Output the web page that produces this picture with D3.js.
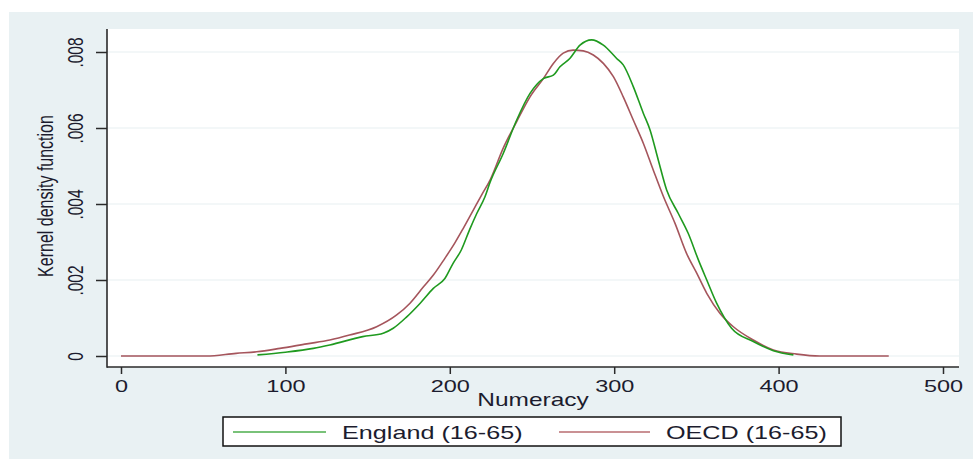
<!DOCTYPE html>
<html>
<head>
<meta charset="utf-8">
<script src="https://cdn.jsdelivr.net/npm/d3@7"></script>
<style>
  html, body { margin: 0; padding: 0; background: #ffffff; }
  svg { display: block; }
  text { font-family: "Liberation Sans", Arial, sans-serif; fill: #1c1c2e; }
</style>
</head>
<body>
<svg id="chart" width="973" height="459"></svg>
<script>
// ---- data ----
const englandX = [83, 100, 117, 127, 147, 159.5, 165.6, 173.8, 182, 190, 197, 202, 207, 212, 216.4, 221.4, 224.5, 232.5, 240.7, 248.8, 256.9, 263, 267, 273, 279.2, 286.3, 293.4, 301.5, 305.5, 311.6, 317.7, 321.8, 326.8, 331.9, 339, 345, 351.2, 356.3, 362.3, 371.4, 384.6, 396.8, 409];
const englandY = [0.00003, 0.0001, 0.0002, 0.00029, 0.00051, 0.0006, 0.00073, 0.00103, 0.00139, 0.00178, 0.00204, 0.00244, 0.00279, 0.00332, 0.00375, 0.00419, 0.00457, 0.00533, 0.00621, 0.00691, 0.0073, 0.00739, 0.00761, 0.00783, 0.00818, 0.00832, 0.00818, 0.00783, 0.00766, 0.00709, 0.00639, 0.00595, 0.00516, 0.00437, 0.00375, 0.00323, 0.00253, 0.002, 0.00139, 0.00073, 0.00038, 0.00014, 0.00003];
const oecdX = [0, 52, 70, 82.5, 96.7, 113, 127, 139, 155.5, 167.7, 175.8, 184, 190, 197, 203, 208.2, 214.3, 219.4, 224.5, 232.5, 240.7, 248.8, 256.9, 263, 269, 275, 281.2, 287.3, 293.4, 299.5, 305.5, 311.6, 317.7, 323.8, 330, 337, 344, 350.2, 356.3, 364.4, 372.5, 384.6, 396.8, 411, 425, 467];
const oecdY = [0, 0, 0.00007, 0.00011, 0.0002, 0.00032, 0.00042, 0.00055, 0.00077, 0.00108, 0.00139, 0.00182, 0.00213, 0.00257, 0.00297, 0.00336, 0.00384, 0.00424, 0.00463, 0.00547, 0.00617, 0.00682, 0.0073, 0.0077, 0.00797, 0.00805, 0.00803, 0.00792, 0.0077, 0.00735, 0.00682, 0.00621, 0.0056, 0.00489, 0.00419, 0.00349, 0.0027, 0.00218, 0.00165, 0.00112, 0.00077, 0.00042, 0.00016, 0.00005, 0, 0];
const xTicks = [0, 100, 200, 300, 400, 500];
const yTicks = [0, 0.002, 0.004, 0.006, 0.008];
const seriesNames = ["England (16-65)", "OECD (16-65)"];
const xTitle = "Numeracy";
const yTitle = "Kernel density function";

// ---- build ----
const svg = d3.select("#chart");
const W = 973, H = 459;
const frame = { left: 107, right: 959, top: 29, bottom: 367 };
const colors = ["#1f9a1f", "#a5555c"];
const legendColors = ["#4cae4c", "#b86c70"];
const bg = "#e9f1f3";
const SX = 1.4; // horizontal stretch of the original rendering

const x = d3.scaleLinear().domain([0, 500]).range([121, 943]);
const y = d3.scaleLinear().domain([0, 0.008]).range([356, 52]);

// outer background
svg.append("rect").attr("x", 9).attr("y", 12).attr("width", W - 9).attr("height", H - 12).attr("fill", bg);
// plot region
svg.append("rect").attr("x", frame.left).attr("y", frame.top)
  .attr("width", frame.right - frame.left).attr("height", frame.bottom - frame.top).attr("fill", "#ffffff");

// gridlines
svg.append("g").selectAll("line").data(yTicks).join("line")
  .attr("x1", frame.left).attr("x2", frame.right)
  .attr("y1", d => y(d)).attr("y2", d => y(d))
  .attr("stroke", "#e8f0f2").attr("stroke-width", 1.2);

// series
const series = [
  englandX.map((v, i) => [v, englandY[i]]),
  oecdX.map((v, i) => [v, oecdY[i]])
];
const line = d3.line().x(d => x(d[0])).y(d => y(d[1])).curve(d3.curveMonotoneX);
// draw OECD first, England on top
[1, 0].forEach(i => {
  svg.append("path").datum(series[i])
    .attr("fill", "none").attr("stroke", colors[i]).attr("stroke-width", 1.6)
    .attr("stroke-linejoin", "round")
    .attr("d", line);
});

// axes
const axisColor = "#2a2a2a";
const xAxis = d3.axisBottom(x).tickValues(xTicks).tickSize(7).tickSizeOuter(0).tickPadding(6).tickFormat(d3.format("d"));
const gx = svg.append("g").attr("transform", `translate(0,${frame.bottom})`).call(xAxis);
gx.select(".domain").remove();
gx.selectAll(".tick line").attr("stroke", axisColor).attr("stroke-width", 1.5);
gx.selectAll(".tick text")
  .attr("y", 25).attr("dy", null)
  .style("font-size", "17px").attr("fill", "#1c1c2e")
  .attr("transform", `scale(1.38,1)`);

const yFmt = d => d === 0 ? "0" : d3.format(".3f")(d).replace(/^0/, "");
const yAxis = d3.axisLeft(y).tickValues(yTicks).tickSize(11).tickSizeOuter(0).tickFormat(yFmt);
const gy = svg.append("g").attr("transform", `translate(${frame.left},0)`).call(yAxis);
gy.select(".domain").remove();
gy.selectAll(".tick line").attr("stroke", axisColor).attr("stroke-width", 1.5);
gy.selectAll(".tick text")
  .attr("x", null).attr("dy", null).attr("text-anchor", "middle")
  .style("font-size", "15.5px").attr("fill", "#1c1c2e")
  .attr("transform", `translate(-24,0) scale(1.42,1) rotate(-90)`);

// axis lines
svg.append("line").attr("x1", frame.left).attr("x2", frame.left).attr("y1", frame.top).attr("y2", frame.bottom + 0.75)
  .attr("stroke", axisColor).attr("stroke-width", 1.6);
svg.append("line").attr("x1", frame.left).attr("x2", frame.right).attr("y1", frame.bottom).attr("y2", frame.bottom)
  .attr("stroke", axisColor).attr("stroke-width", 1.6);

// axis titles
svg.append("text").attr("transform", `translate(${(frame.left + frame.right) / 2},405.5) scale(${SX},1)`)
  .attr("text-anchor", "middle").style("font-size", "17.5px").text(xTitle);
svg.append("text").attr("transform", `translate(53,196) scale(${SX},1) rotate(-90)`)
  .attr("text-anchor", "middle").style("font-size", "16px").text(yTitle);

// legend
const lg = svg.append("g");
lg.append("rect").attr("x", 223).attr("y", 417).attr("width", 618).attr("height", 29)
  .attr("fill", "#ffffff").attr("stroke", "#111").attr("stroke-width", 1.5);
const legendItems = [
  { sx: 233, ex: 326, tx: 342 },
  { sx: 559, ex: 650, tx: 666 }
];
legendItems.forEach((it, i) => {
  lg.append("line").attr("x1", it.sx).attr("x2", it.ex).attr("y1", 432).attr("y2", 432)
    .attr("stroke", legendColors[i]).attr("stroke-width", 1.3);
  lg.append("text").attr("transform", `translate(${it.tx},438.5) scale(${SX},1)`)
    .style("font-size", "18px").text(seriesNames[i]);
});
</script>
</body>
</html>
